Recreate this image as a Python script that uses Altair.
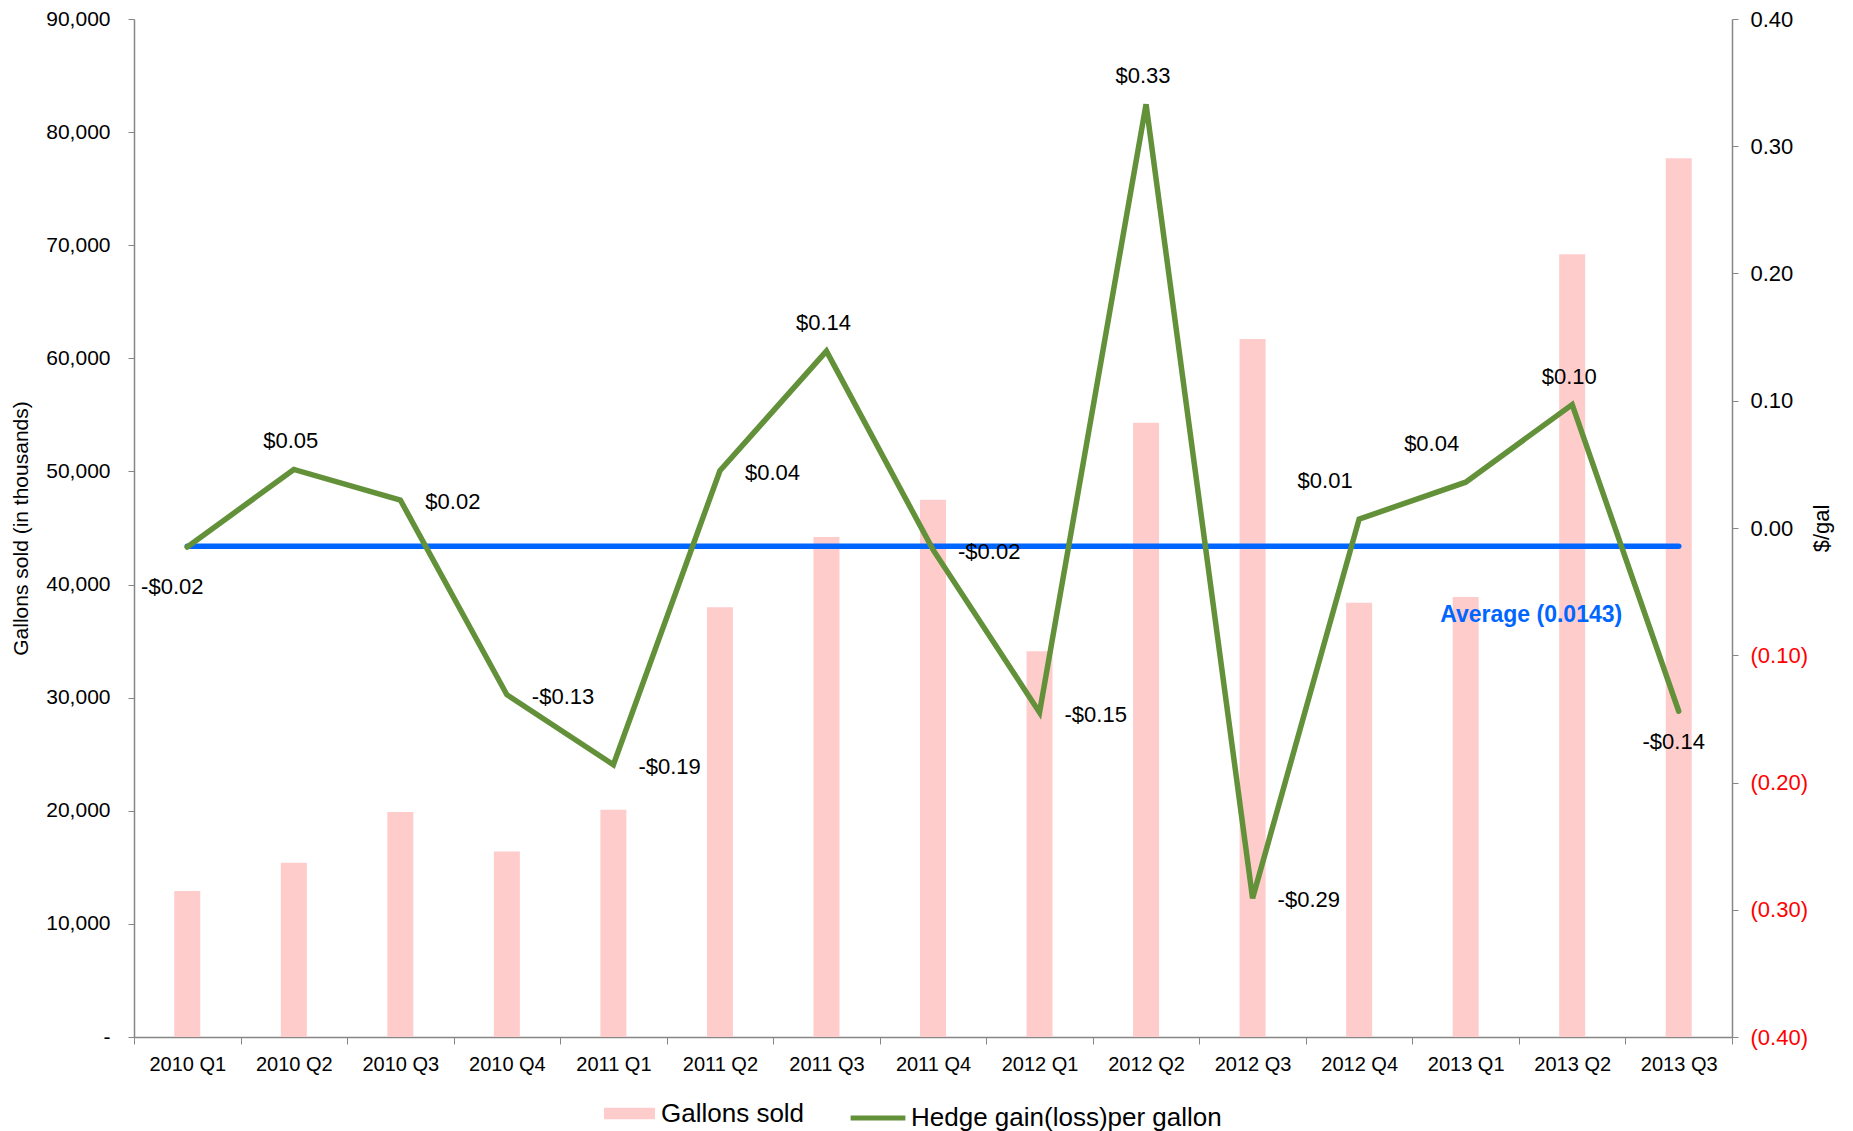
import altair as alt
import pandas as pd

quarters = ["2010 Q1", "2010 Q2", "2010 Q3", "2010 Q4", "2011 Q1", "2011 Q2", "2011 Q3", "2011 Q4",
            "2012 Q1", "2012 Q2", "2012 Q3", "2012 Q4", "2013 Q1", "2013 Q2", "2013 Q3"]
gallons = [12900, 15400, 19900, 16400, 20100, 38000, 44200, 47500,
           34100, 54300, 61700, 38400, 38900, 69200, 77700]
hedge = [-0.015, 0.046, 0.022, -0.131, -0.186, 0.045, 0.139, -0.017,
         -0.145, 0.333, -0.291, 0.007, 0.036, 0.097, -0.144]
hedge_labels = ["-$0.02", "$0.05", "$0.02", "-$0.13", "-$0.19", "$0.04", "$0.14", "-$0.02",
                "-$0.15", "$0.33", "-$0.29", "$0.01", "$0.04", "$0.10", "-$0.14"]
label_pos = ["belowleft", "above", "right", "right", "right", "right", "above", "right",
             "right", "above", "right", "aboveleft", "aboveleft", "above", "below"]
average = -0.0143
average_label = "Average (0.0143)"

FONT = "Liberation Sans"
GREY = "#868686"
BAR = "#FFCCCC"
GREEN = "#63913A"
BLUE = "#0066FF"

df = pd.DataFrame({"quarter": quarters, "gallons": gallons, "hedge": hedge,
                   "label": hedge_labels, "pos": label_pos})
avg_df = pd.DataFrame({"quarter": [quarters[0]], "end": [quarters[-1]], "hedge": [average],
                       "text": [average_label], "anchor": [quarters[13]]})

xenc = alt.X("quarter:N", sort=quarters,
             scale=alt.Scale(paddingInner=0, paddingOuter=0),
             axis=alt.Axis(title=None, labelAngle=0, tickBand="extent", labelFont=FONT,
                           labelFontSize=20, labelColor="black", domainColor=GREY,
                           tickColor=GREY, tickSize=7, labelPadding=10, domainWidth=1.5))

yscale_right = alt.Scale(domain=[-0.4, 0.4], nice=False, zero=False)
right_axis = alt.Axis(orient="right", title="$/gal",
                      values=[-0.4, -0.3, -0.2, -0.1, 0.0, 0.1, 0.2, 0.3, 0.4],
                      labelExpr="datum.value < 0 ? '(' + format(-datum.value, '.2f') + ')' : format(datum.value, '.2f')",
                      labelColor=alt.condition("datum.value < 0", alt.value("#FF0000"), alt.value("#000000")),
                      grid=False, labelFont=FONT, labelFontSize=22,
                      titleFont=FONT, titleFontSize=22, titleFontWeight="normal",
                      titleColor="black", titleAngle=270, titlePadding=26,
                      domainColor=GREY, tickColor=GREY, tickSize=6, labelPadding=12,
                      domainWidth=1.5)
yenc_right = alt.Y("hedge:Q", scale=yscale_right, axis=right_axis, title="$/gal")

base = alt.Chart(df)

bars = base.transform_calculate(series="'Gallons sold'").mark_bar(size=26).encode(
    x=xenc,
    y=alt.Y("gallons:Q", scale=alt.Scale(domain=[0, 90000], nice=False),
            axis=alt.Axis(orient="left", title="Gallons sold (in thousands)",
                          values=list(range(0, 90001, 10000)),
                          labelExpr="datum.value == 0 ? '-' : format(datum.value, ',')",
                          grid=False, labelFont=FONT, labelFontSize=21, labelColor="black",
                          titleFont=FONT, titleFontSize=21, titleFontWeight="normal",
                          titleColor="black", titlePadding=14, domainColor=GREY,
                          tickColor=GREY, tickSize=6, labelPadding=18, domainWidth=1.5)),
    color=alt.Color("series:N", scale=alt.Scale(domain=["Gallons sold"], range=[BAR]),
                    legend=alt.Legend(orient="none", legendX=470, legendY=1069, title=None,
                                      symbolType="M-1,-0.23L1,-0.23L1,0.23L-1,0.23Z",
                                      symbolSize=2601, symbolStrokeWidth=0, labelFont=FONT,
                                      labelFontSize=26, labelColor="black", labelOffset=6,
                                      labelLimit=0)),
)

line = base.transform_calculate(series="'Hedge gain(loss)per gallon'").mark_line(
    strokeWidth=5.5, strokeCap="round").encode(
    x=alt.X("quarter:N", sort=quarters),
    y=yenc_right,
    color=alt.Color("series:N", scale=alt.Scale(domain=["Hedge gain(loss)per gallon"], range=[GREEN]),
                    legend=alt.Legend(orient="none", legendX=714, legendY=1069, title=None,
                                      symbolType="stroke", symbolSize=3000, symbolStrokeWidth=5,
                                      labelFont=FONT, labelFontSize=26, labelColor="black",
                                      labelOffset=3, labelLimit=0)),
)

rule = alt.Chart(avg_df).mark_rule(color=BLUE, strokeWidth=5.5, strokeCap="round").encode(
    x=alt.X("quarter:N", sort=quarters),
    x2="end:N",
    y=yenc_right,
)

avg_text = alt.Chart(avg_df).mark_text(font=FONT, fontSize=23, fontWeight="bold", color=BLUE,
                                       dx=-41, dy=69).encode(
    x=alt.X("anchor:N", sort=quarters),
    y=yenc_right,
    text="text:N",
)

offsets = {
    "right": dict(align="left", dx=25, dy=2),
    "above": dict(align="center", dx=-3, dy=-28),
    "belowleft": dict(align="center", dx=-15, dy=40),
    "aboveleft": dict(align="center", dx=-34, dy=-38),
    "below": dict(align="center", dx=-5, dy=31),
}
label_layers = []
for pos, kw in offsets.items():
    label_layers.append(
        base.transform_filter(alt.datum.pos == pos).mark_text(
            font=FONT, fontSize=22, color="black", baseline="middle", **kw).encode(
            x=alt.X("quarter:N", sort=quarters),
            y=yenc_right,
            text="label:N",
        )
    )

right_layer = alt.layer(rule, line, avg_text, *label_layers)

chart = alt.layer(bars, right_layer).resolve_scale(
    y="independent", color="independent"
).properties(
    width=1598, height=1018, padding={"left": 2, "top": 0, "right": 5, "bottom": 0}
).configure_view(stroke=None)

chart.save("out.html", embed_options={"renderer": "svg", "actions": False})
